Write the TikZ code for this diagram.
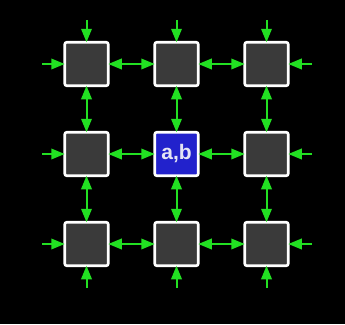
\documentclass[tikz,border=0pt]{standalone}
\usepackage{fontspec}
\setmainfont{Liberation Sans}
\usetikzlibrary{arrows.meta}
\definecolor{bg}{HTML}{000000}
\definecolor{cellgray}{HTML}{3A3A3A}
\definecolor{cellblue}{HTML}{2222CC}
\definecolor{arrowgreen}{HTML}{22E022}
\definecolor{labelwhite}{HTML}{E4E4F4}
\begin{document}
\begin{tikzpicture}[x=1pt,y=-1pt,
  cell/.style={draw=white, line width=2.6pt, rounded corners=2pt, fill=cellgray, minimum size=43.5pt, inner sep=0pt, outer sep=0pt},
  hcell/.style={cell, fill=cellblue, text=labelwhite, font=\bfseries\fontsize{21}{21}\selectfont},
  link/.style={draw=arrowgreen, line width=2pt, {Triangle[length=13.5pt,width=10.5pt]}-{Triangle[length=13.5pt,width=10.5pt]}},
  feed/.style={draw=arrowgreen, line width=2pt, -{Triangle[length=13.5pt,width=10.5pt]}}
]
\fill[bg] (0,0) rectangle (345,324);
\useasboundingbox (0,0) rectangle (345,324);

\foreach \r/\yy in {1/64,2/154,3/244}{
  \foreach \c/\xx in {1/86.5,2/176.5,3/266.5}{
    \coordinate (p\r\c) at (\xx,\yy);
  }
}
\node[cell]  (b11) at (p11) {};
\node[cell]  (b12) at (p12) {};
\node[cell]  (b13) at (p13) {};
\node[cell]  (b21) at (p21) {};
\node[hcell] (b22) at (p22) {a,b};
\node[cell]  (b23) at (p23) {};
\node[cell]  (b31) at (p31) {};
\node[cell]  (b32) at (p32) {};
\node[cell]  (b33) at (p33) {};

% horizontal links
\draw[link] (b11) -- (b12);
\draw[link] (b12) -- (b13);
\draw[link] (b21) -- (b22);
\draw[link] (b22) -- (b23);
\draw[link] (b31) -- (b32);
\draw[link] (b32) -- (b33);
% vertical links
\draw[link] (b11) -- (b21);
\draw[link] (b21) -- (b31);
\draw[link] (b12) -- (b22);
\draw[link] (b22) -- (b32);
\draw[link] (b13) -- (b23);
\draw[link] (b23) -- (b33);

% external feeds
\coordinate (t1) at (86.5,20);
\coordinate (t2) at (176.5,20);
\coordinate (t3) at (266.5,20);
\coordinate (d1) at (86.5,288);
\coordinate (d2) at (176.5,288);
\coordinate (d3) at (266.5,288);
\coordinate (l1) at (42,64);
\coordinate (l2) at (42,154);
\coordinate (l3) at (42,244);
\coordinate (r1) at (312,64);
\coordinate (r2) at (312,154);
\coordinate (r3) at (312,244);

\draw[feed] (t1) -- (b11.north);
\draw[feed] (t2) -- (b12.north);
\draw[feed] (t3) -- (b13.north);
\draw[feed] (d1) -- (b31.south);
\draw[feed] (d2) -- (b32.south);
\draw[feed] (d3) -- (b33.south);
\draw[feed] (l1) -- (b11.west);
\draw[feed] (l2) -- (b21.west);
\draw[feed] (l3) -- (b31.west);
\draw[feed] (r1) -- (b13.east);
\draw[feed] (r2) -- (b23.east);
\draw[feed] (r3) -- (b33.east);
\end{tikzpicture}
\end{document}
